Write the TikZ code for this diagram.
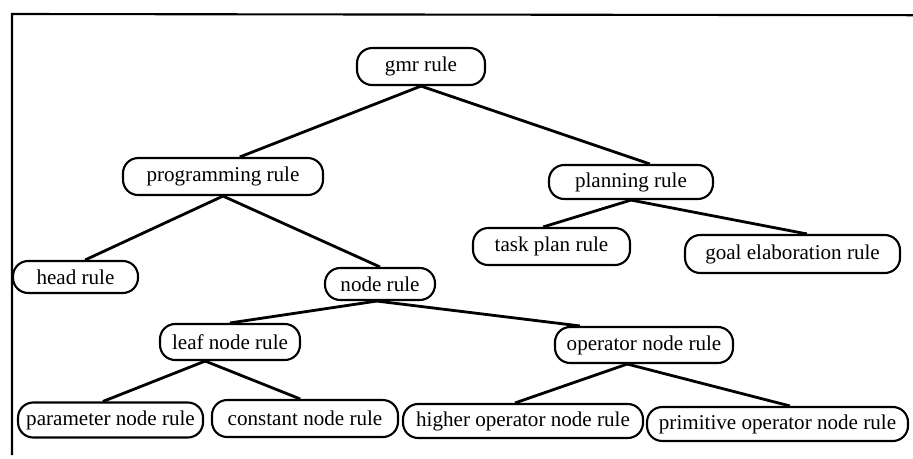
\documentclass[tikz,border=0pt]{standalone}
\usepackage{fontspec}
\setmainfont{Liberation Serif}
\usepackage{tikz}
\usetikzlibrary{positioning}

\begin{document}
\begin{tikzpicture}
  [
    Rule/.style={rectangle, draw=black, rounded corners=0.38cm, line width=1.5pt, inner sep=0pt,
      font=\fontsize{15pt}{18pt}\selectfont},
    Link/.style={draw, line width=2pt},
    Frame/.style={draw, line width=1.5pt}
  ]
  \useasboundingbox (0, 0) rectangle (22.825, -11.45);
  % Frame
  \coordinate (f0) at(0.3, -11.375);
  \coordinate (f1) at(0.3, -0.35);
  \coordinate (f2) at(22.825, -0.38);
  \path [Frame] (f0) -- (f1) -- (f2);
  % Nodes
  \node[Rule, minimum width=3.2cm, minimum height=0.925cm] (gmr) at(10.525, -1.663) {gmr rule};
  \node[Rule, minimum width=5.0cm, minimum height=0.925cm] (prog) at(5.575, -4.413) {programming rule};
  \node[Rule, minimum width=4.1cm, minimum height=0.85cm] (plan) at(15.775, -4.55) {planning rule};
  \node[Rule, minimum width=3.125cm, minimum height=0.8cm] (head) at(1.888, -6.925) {head rule};
  \node[Rule, minimum width=2.75cm, minimum height=0.8cm] (noderule) at(9.5, -7.1) {node rule};
  \node[Rule, minimum width=3.925cm, minimum height=0.925cm] (task) at(13.788, -6.163) {task plan rule};
  \node[Rule, minimum width=5.375cm, minimum height=0.95cm] (goal) at(19.813, -6.35) {goal elaboration rule};
  \node[Rule, minimum width=3.5cm, minimum height=0.9cm] (leaf) at(5.75, -8.55) {leaf node rule};
  \node[Rule, minimum width=4.45cm, minimum height=0.9cm] (oper) at(16.1, -8.625) {operator node rule};
  \node[Rule, minimum width=4.625cm, minimum height=0.875cm] (param) at(2.763, -10.5) {parameter node rule};
  \node[Rule, minimum width=4.65cm, minimum height=0.925cm] (const) at(7.625, -10.463) {constant node rule};
  \node[Rule, minimum width=6.0cm, minimum height=0.85cm] (higher) at(13.075, -10.525) {higher operator node rule};
  \node[Rule, minimum width=6.525cm, minimum height=0.85cm] (prim) at(19.438, -10.6) {primitive operator node rule};
  % Lines
  \path [Link] (gmr.south) -- ([xshift=0.42cm]prog.north);
  \path [Link] (gmr.south) -- ([xshift=0.47cm]plan.north);
  \path [Link] (prog.south) -- ([xshift=0.24cm]head.north);
  \path [Link] (prog.south) -- (noderule.north);
  \path [Link] (plan.south) -- ([xshift=-0.21cm]task.north);
  \path [Link] (plan.south) -- ([xshift=0.36cm]goal.north);
  \path [Link] ([xshift=-0.08cm]noderule.south) -- (leaf.north);
  \path [Link] ([xshift=-0.08cm]noderule.south) -- ([xshift=-1.6cm]oper.north);
  \path [Link] ([xshift=-0.62cm]leaf.south) -- ([xshift=-0.19cm]param.north);
  \path [Link] ([xshift=-0.62cm]leaf.south) -- ([xshift=-0.12cm]const.north);
  \path [Link] ([xshift=-0.42cm]oper.south) -- ([xshift=-0.2cm]higher.north);
  \path [Link] ([xshift=-0.42cm]oper.south) -- ([xshift=0.31cm]prim.north);
\end{tikzpicture}
\end{document}
